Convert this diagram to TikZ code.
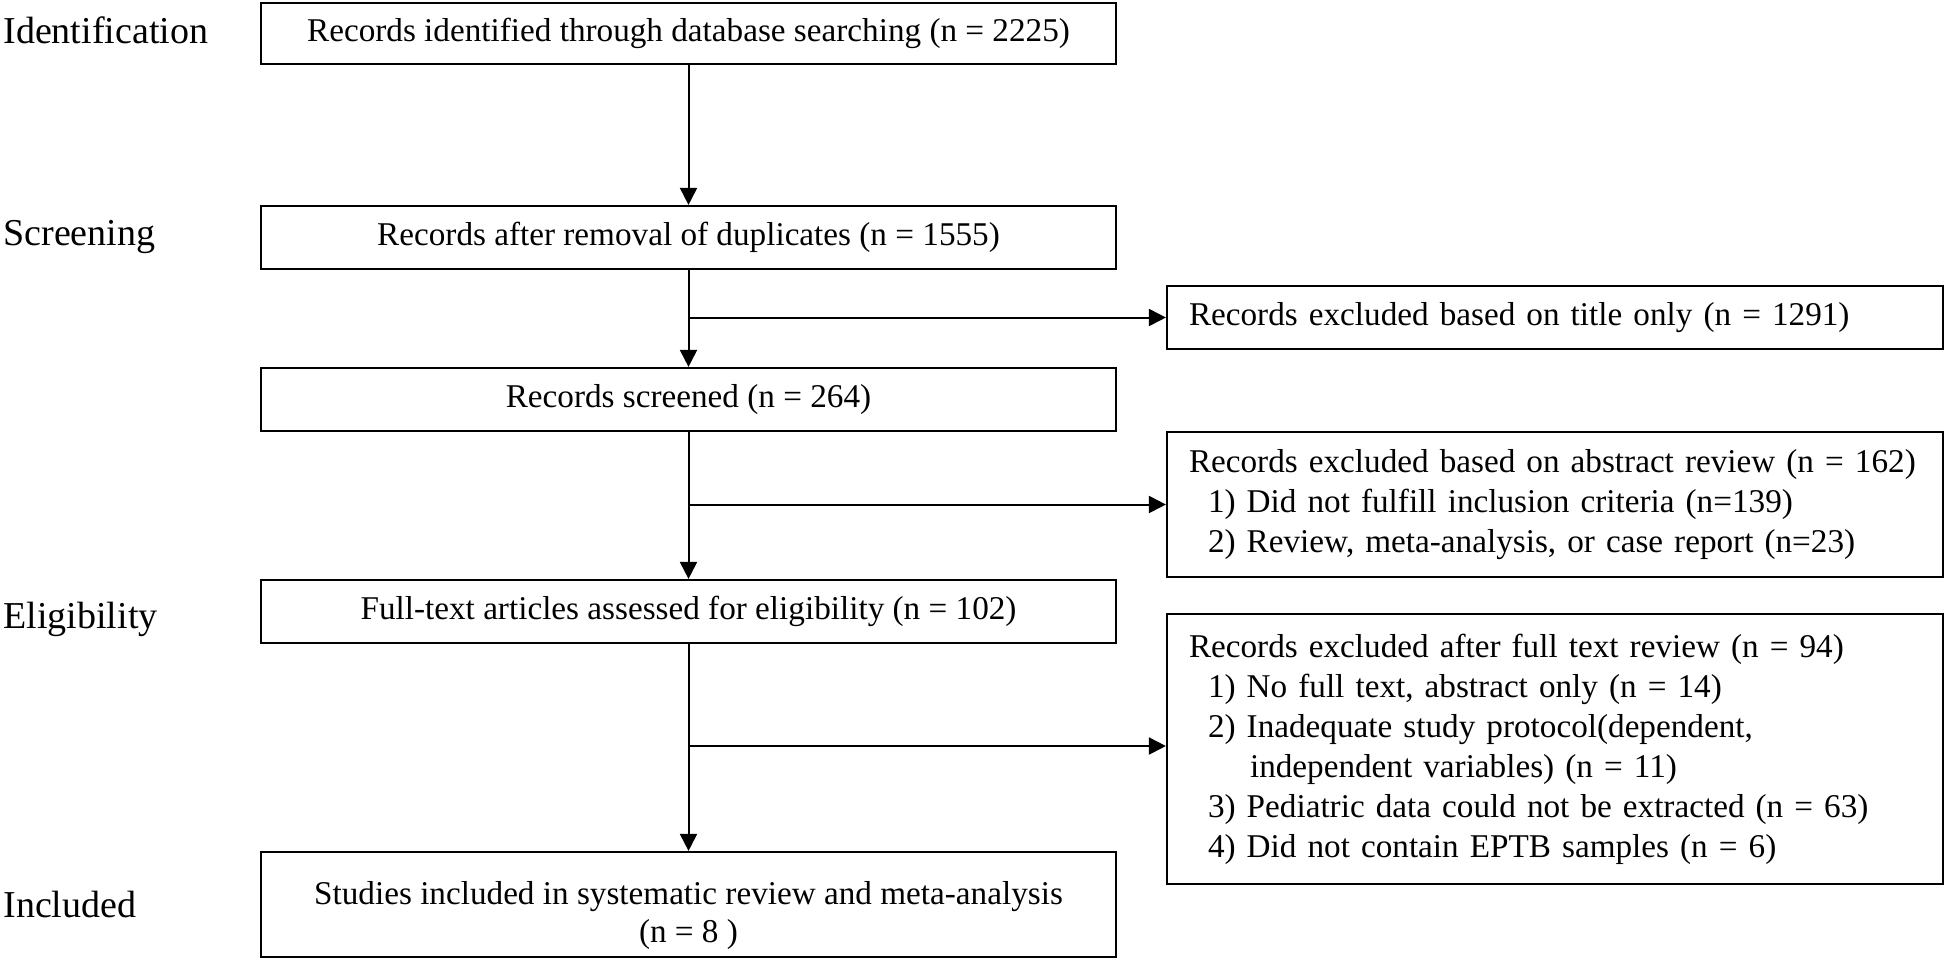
\documentclass[tikz,border=0pt]{standalone}
\usepackage{fontspec}
\setmainfont{Liberation Serif}
\usetikzlibrary{arrows.meta,calc}
\newcommand{\ind}[1]{\hspace*{#1}}
\begin{document}
\begin{tikzpicture}[x=0.5pt,y=-0.5pt,
  box/.style={draw,line width=1.1pt,rectangle,inner sep=0pt,minimum width=427.5pt,
    font=\fontsize{16.6pt}{19pt}\selectfont,align=center},
  btext/.style={inner sep=0pt,font=\fontsize{16.6pt}{19pt}\selectfont,align=center},
  rbox/.style={draw,line width=1.1pt,rectangle,inner xsep=0pt,inner ysep=0pt,text width=388pt,
    font=\fontsize{16.6pt}{20pt}\selectfont,align=left},
  stage/.style={anchor=base west,inner sep=0pt,font=\fontsize{19pt}{22pt}\selectfont},
  arr/.style={line width=1pt,-{Triangle[length=8.5pt,width=8.5pt]}}]
\useasboundingbox (0,0) rectangle (1946,960);
% stage labels
\node[stage] (lid) at (3,43) {Identification};
\node[stage] (lsc) at (3,245) {Screening};
\node[stage] (lel) at (3,628) {Eligibility};
\node[stage] (lin) at (3,917) {Included};
% main boxes
\node[box,minimum height=30.5pt] (b1) at (688.5,33.5) {Records identified through database searching (n = 2225)};
\node[box,minimum height=31.5pt] (b2) at (688.5,237.5) {Records after removal of duplicates (n = 1555)};
\node[box,minimum height=31.5pt] (b3) at (688.5,399.5) {Records screened (n = 264)};
\node[box,minimum height=31.5pt] (b4) at (688.5,611.5) {Full-text articles assessed for eligibility (n = 102)};
\node[box,minimum height=52.5pt] (b5) at (688.5,904.5) {};
\node[btext] (b5t) at ($(b5.center)+(0,11)$) {Studies included in systematic review and meta-analysis\\(n = 8 )};
% exclusion boxes
\node[rbox,minimum height=31.5pt] (r1) at (1555,317.5) {\ind{11pt}Records excluded based on title only (n = 1291)};
\node[rbox,minimum height=72.5pt] (r2) at (1555,504.5) {\ind{11pt}Records excluded based on abstract review (n = 162)\\
\ind{20.5pt}1) Did not fulfill inclusion criteria (n=139)\\
\ind{20.5pt}2) Review, meta-analysis, or case report (n=23)};
\node[rbox,minimum height=135pt] (r3) at (1555,749) {\ind{11pt}Records excluded after full text review (n = 94)\\
\ind{20.5pt}1) No full text, abstract only (n = 14)\\
\ind{20.5pt}2) Inadequate study protocol(dependent,\\
\ind{41.5pt}independent variables) (n = 11)\\
\ind{20.5pt}3) Pediatric data could not be extracted (n = 63)\\
\ind{20.5pt}4) Did not contain EPTB samples (n = 6)};
% connectors
\draw[arr] (b1) -- (b2);
\draw[arr] (b2) -- (b3);
\draw[arr] (b3) -- (b4);
\draw[arr] (b4) -- (b5);
\coordinate (j1) at (b2.south |- r1.west);
\coordinate (j2) at (b3.south |- r2.west);
\coordinate (j3) at ($(b4.south |- r3.west)+(0,-3)$);
\coordinate (t3) at ($(r3.west)+(0,-3)$);
\draw[arr] (j1) -- (r1.west);
\draw[arr] (j2) -- (r2.west);
\draw[arr] (j3) -- (t3);
\end{tikzpicture}
\end{document}
